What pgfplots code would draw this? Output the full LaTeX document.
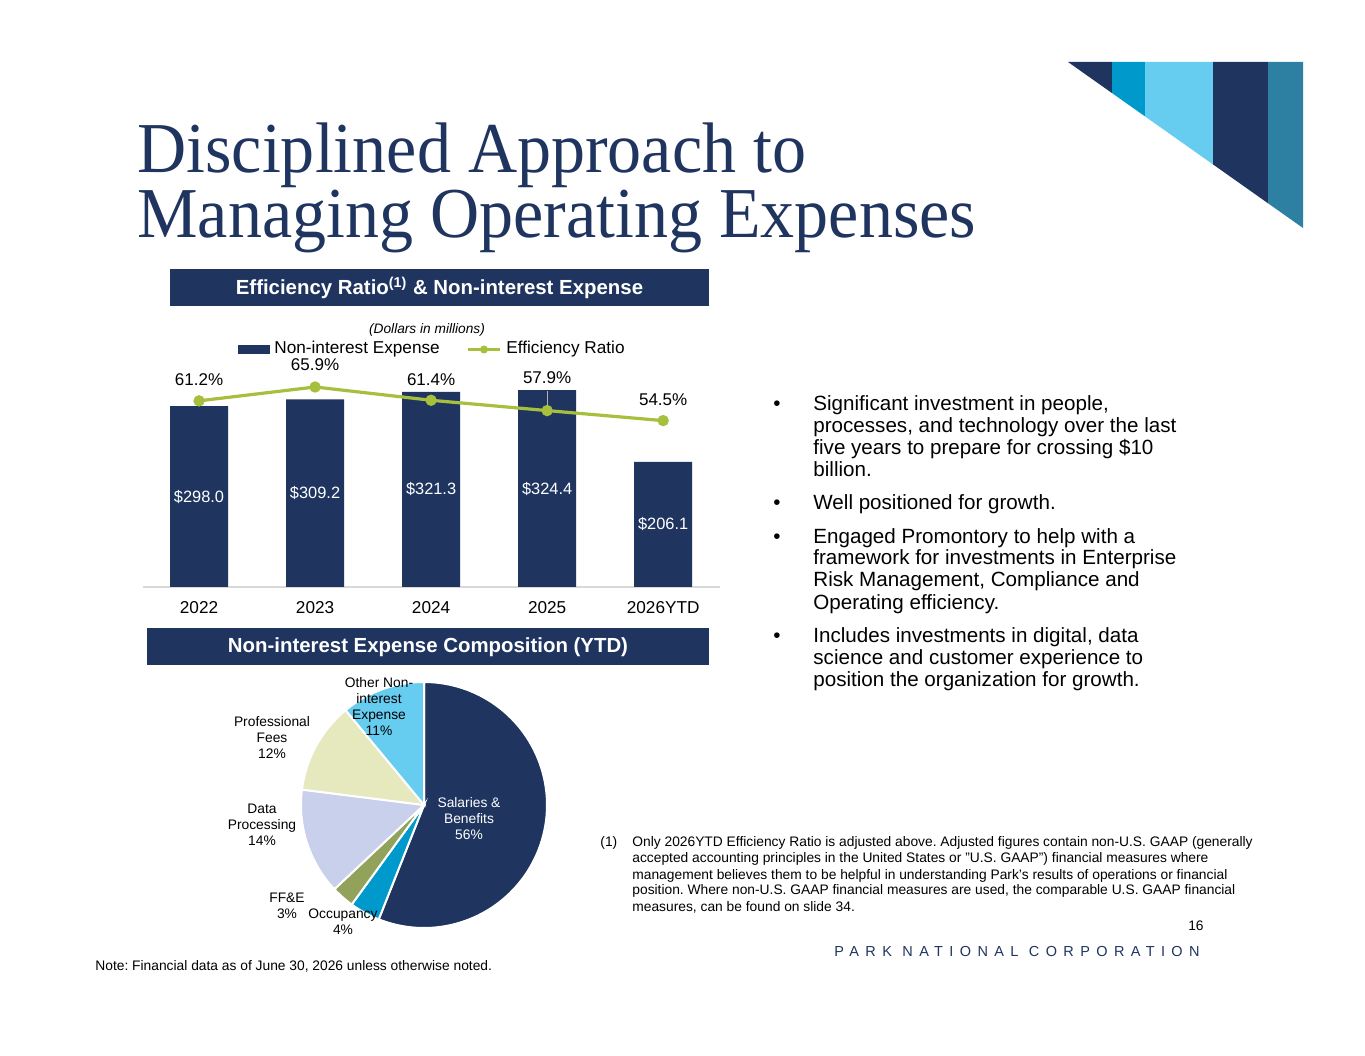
\documentclass[border=0pt]{standalone}
\usepackage{pgfplots}
\usepackage{pgfplotstable}
\pgfplotsset{compat=1.18}
\usepackage{fontspec}
\setmainfont{Liberation Sans}
\newfontfamily\titlefont[FakeStretch=0.95]{Liberation Serif}
\definecolor{navy}{RGB}{31,53,96}
\definecolor{lime}{RGB}{166,192,62}
\definecolor{teal1}{RGB}{0,153,204}
\definecolor{sky}{RGB}{102,204,240}
\definecolor{steel}{RGB}{46,128,163}
\definecolor{olive1}{RGB}{146,162,90}
\definecolor{lav}{RGB}{200,208,235}
\definecolor{paleyel}{RGB}{230,232,190}
\definecolor{lgray}{RGB}{217,217,217}
\newcommand\fsz[2]{\fontsize{#1}{#2}\selectfont}
\newcommand\tl[3]{\node[anchor=base west, inner sep=0] at (#1,#2) {#3};}
\frenchspacing

\pgfplotstableread{
x exp ratio
0 298.0 61.2
1 309.2 65.9
2 321.3 61.4
3 324.4 57.9
4 206.1 54.5
}\bardata

\begin{document}
\begin{tikzpicture}[x=0.5pt,y=0.5pt]
\fill[white] (0,0) rectangle (1365,1055);

% bar chart (plot box from x=143..720 px, y=360..587 px)
\begin{axis}[at={(71.5pt,234pt)}, anchor=south west, scale only axis, width=288.5pt, height=113.5pt,
  xmin=-0.483, xmax=4.49, ymin=0, ymax=374,
  axis x line*=bottom, axis y line=none,
  x axis line style={draw=lgray, line width=0.75pt, -},
  xtick={0,1,2,3,4}, xticklabels={2022,2023,2024,2025,2026YTD},
  major tick length=0pt,
  xticklabel style={font=\fsz{8.6}{10}, text=black, yshift=-3.5pt},
  clip=false]
\addplot[ybar, bar width=29pt, fill=navy, draw=none] table[x=x,y=exp]{\bardata};
\node[text=white, font=\fsz{8.2}{10}] at (axis cs:0,149) {\$298.0};
\node[text=white, font=\fsz{8.2}{10}] at (axis cs:1,154.6) {\$309.2};
\node[text=white, font=\fsz{8.2}{10}] at (axis cs:2,160.7) {\$321.3};
\node[text=white, font=\fsz{8.2}{10}] at (axis cs:3,162.2) {\$324.4};
\node[text=white, font=\fsz{8.2}{10}] at (axis cs:4,103.1) {\$206.1};
\end{axis}
% ratio line
\begin{axis}[at={(71.5pt,234pt)}, anchor=south west, scale only axis, width=288.5pt, height=113.5pt,
  xmin=-0.483, xmax=4.49, ymin=-1.9, ymax=75.05, axis lines=none, clip=false]
\draw[gray!60, line width=0.4pt] (axis cs:3,57.9) -- ([yshift=10pt]axis cs:3,57.9);
\addplot[lime, line width=1.6pt, mark=*, mark size=2pt, mark options={fill=lime, draw=lime}] table[x=x,y=ratio]{\bardata};
\node[font=\fsz{8.5}{10}] at (axis cs:0,61.2) [yshift=10.5pt] {61.2\%};
\node[font=\fsz{8.5}{10}] at (axis cs:1,65.9) [yshift=11pt] {65.9\%};
\node[font=\fsz{8.5}{10}] at (axis cs:2,61.4) [yshift=10.5pt] {61.4\%};
\node[font=\fsz{8.5}{10}] at (axis cs:3,57.9) [yshift=16.5pt] {57.9\%};
\node[font=\fsz{8.5}{10}] at (axis cs:4,54.5) [yshift=10.5pt] {54.5\%};
\end{axis}

% pie chart
\pgfmathsetmacro\aA{90}
\pgfmathsetmacro\aB{\aA-3.6*56}
\pgfmathsetmacro\aC{\aB-3.6*4}
\pgfmathsetmacro\aD{\aC-3.6*3}
\pgfmathsetmacro\aE{\aD-3.6*14}
\pgfmathsetmacro\aF{\aE-3.6*12}
\pgfmathsetmacro\aG{\aF-3.6*11}
\begin{axis}[at={(212pt,125pt)}, anchor=center, scale only axis, width=123pt, height=123pt,
  xmin=-1, xmax=1, ymin=-1, ymax=1, axis lines=none, clip=false]
\addplot[fill=navy, draw=white, line width=1pt, domain=\aB:\aA, samples=90] ({cos(x)},{sin(x)}) -- (axis cs:0,0) -- cycle;
\addplot[fill=teal1, draw=white, line width=1pt, domain=\aC:\aB, samples=10] ({cos(x)},{sin(x)}) -- (axis cs:0,0) -- cycle;
\addplot[fill=olive1, draw=white, line width=1pt, domain=\aD:\aC, samples=10] ({cos(x)},{sin(x)}) -- (axis cs:0,0) -- cycle;
\addplot[fill=lav, draw=white, line width=1pt, domain=\aE:\aD, samples=30] ({cos(x)},{sin(x)}) -- (axis cs:0,0) -- cycle;
\addplot[fill=paleyel, draw=white, line width=1pt, domain=\aF:\aE, samples=30] ({cos(x)},{sin(x)}) -- (axis cs:0,0) -- cycle;
\addplot[fill=sky, draw=white, line width=1pt, domain=\aG:\aF, samples=30] ({cos(x)},{sin(x)}) -- (axis cs:0,0) -- cycle;
\end{axis}

\begin{scope}[y=-0.5pt, yshift=527.5pt]
% decoration
\begin{scope}
\clip (1068,62) -- (1303,62) -- (1303,228) -- cycle;
\fill[navy] (1066,60) rectangle (1112,230);
\fill[teal1] (1112,60) rectangle (1145,230);
\fill[sky] (1145,60) rectangle (1213,230);
\fill[navy] (1213,60) rectangle (1268,230);
\fill[steel] (1268,60) rectangle (1305,230);
\end{scope}
% title
\node[anchor=base west, inner sep=0, text=navy, font=\titlefont\fsz{35.8}{40}] at (137,173) {Disciplined Approach to};
\node[anchor=base west, inner sep=0, text=navy, font=\titlefont\fsz{35.8}{40}] at (137,238) {Managing Operating Expenses};
% headers
\fill[navy] (170,269) rectangle (709,306);
\node[text=white, font=\bfseries\fsz{10.2}{12}] at (439.5,288) {Efficiency Ratio\textsuperscript{(1)} \& Non-interest Expense};
\fill[navy] (147,628) rectangle (709,665);
\node[text=white, font=\bfseries\fsz{10.2}{12}] at (428,647) {Non-interest Expense Composition (YTD)};
% legend
\node[font=\itshape\fsz{6.85}{8}] at (427,330) {(Dollars in millions)};
\fill[navy] (238,345) rectangle (270,354);
\node[anchor=west, inner sep=0, font=\fsz{8.6}{10}] at (274,349.5) {Non-interest Expense};
\draw[lime, line width=1.6pt] (468,349.5) -- (500,349.5);
\fill[lime] (484,349.5) circle (2pt);
\node[anchor=west, inner sep=0, font=\fsz{8.6}{10}] at (506,349.5) {Efficiency Ratio};
% pie labels
\node[align=center, text=white, font=\fsz{6.9}{8}] at (469,819) {Salaries \&\\Benefits\\56\%};
\node[align=center, font=\fsz{6.9}{8}] at (379,707) {Other Non-\\interest\\Expense\\11\%};
\node[align=center, font=\fsz{6.9}{8}] at (272,738) {Professional\\Fees\\12\%};
\node[align=center, font=\fsz{6.9}{8}] at (262,825) {Data\\Processing\\14\%};
\node[align=center, font=\fsz{6.9}{8}] at (287,906) {FF\&E\\3\%};
\node[align=center, font=\fsz{6.9}{8}] at (343,922) {Occupancy\\4\%};
% bullets
\begin{scope}[font=\fsz{10.3}{12}]
\foreach \y in {411,510,544,643} {\node[anchor=base west, inner sep=0] at (773,\y) {\textbullet};}
\tl{813}{411}{Significant investment in people,}
\tl{813}{433}{processes, and technology over the last}
\tl{813}{455}{five years to prepare for crossing \$10}
\tl{813}{477}{billion.}
\tl{813}{510}{Well positioned for growth.}
\tl{813}{544}{Engaged Promontory to help with a}
\tl{813}{565}{framework for investments in Enterprise}
\tl{813}{587}{Risk Management, Compliance and}
\tl{813}{610}{Operating efficiency.}
\tl{813}{643}{Includes investments in digital, data}
\tl{813}{665}{science and customer experience to}
\tl{813}{687}{position the organization for growth.}
\end{scope}
% footnote
\begin{scope}[font=\fsz{6.9}{8}]
\tl{600}{847}{(1)}
\tl{632}{847}{Only 2026YTD Efficiency Ratio is adjusted above. Adjusted figures contain non-U.S. GAAP (generally}
\tl{632}{863}{accepted accounting principles in the United States or "U.S. GAAP") financial measures where}
\tl{632}{879}{management believes them to be helpful in understanding Park’s results of operations or financial}
\tl{632}{895}{position. Where non-U.S. GAAP financial measures are used, the comparable U.S. GAAP financial}
\tl{632}{912}{measures, can be found on slide 34.}
\node[anchor=base east, inner sep=0] at (1204,930) {16};
\end{scope}
\node[anchor=base east, inner sep=0, text=navy, font=\fsz{7.25}{8}\addfontfeature{LetterSpace=44}] at (1200,957) {PARK NATIONAL CORPORATION};
\node[anchor=base west, inner sep=0, font=\fsz{6.9}{8}] at (95,971) {Note: Financial data as of June 30, 2026 unless otherwise noted.};
\end{scope}
\end{tikzpicture}
\end{document}
